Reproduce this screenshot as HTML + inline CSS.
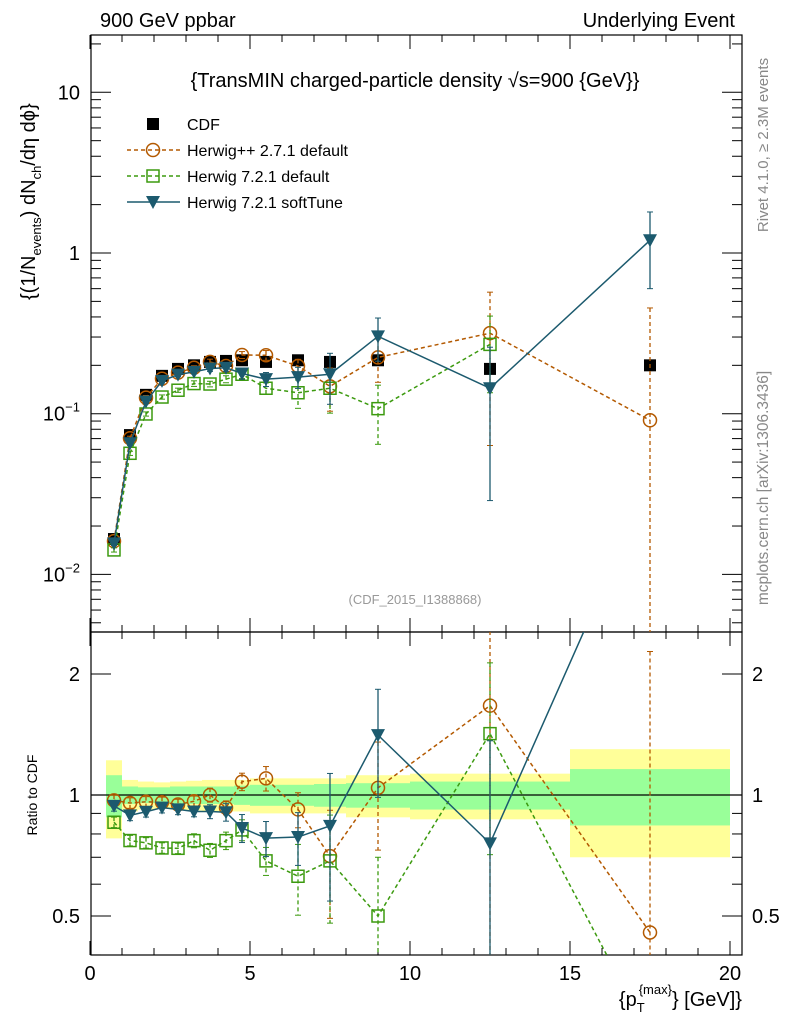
<!DOCTYPE html>
<html><head><meta charset="utf-8"><style>
html,body{margin:0;padding:0;background:#fff;width:786px;height:1024px;overflow:hidden}
svg{display:block;font-family:"Liberation Sans",sans-serif}
</style></head><body>
<svg id="c" width="786" height="1024" viewBox="0 0 786 1024">
<text x="100" y="27" font-size="20">900 GeV ppbar</text>
<text x="735" y="27" font-size="20" text-anchor="end">Underlying Event</text>
<text x="415" y="87" font-size="20" text-anchor="middle">{TransMIN charged-particle density √s=900 {GeV}}</text>
<text x="415" y="604" font-size="13" fill="#999" text-anchor="middle">(CDF_2015_I1388868)</text>
<text transform="translate(768,145) rotate(-90)" font-size="15" fill="#888" text-anchor="middle">Rivet 4.1.0, ≥ 2.3M events</text>
<text transform="translate(768,488) rotate(-90)" font-size="15.5" fill="#888" text-anchor="middle">mcplots.cern.ch [arXiv:1306.3436]</text>
<text transform="translate(35,300) rotate(-90)" font-size="20">{(1/N<tspan font-size="13" dy="6">events</tspan><tspan dy="-6">) dN</tspan><tspan font-size="13" dy="6">ch</tspan><tspan dy="-6">/dη dϕ}</tspan></text>
<text transform="translate(37,795) rotate(-90)" font-size="14" text-anchor="middle">Ratio to CDF</text>
<text x="742" y="1006" font-size="20" text-anchor="end">{p<tspan font-size="13" dy="6">T</tspan><tspan font-size="13" dy="-18" dx="-6">{max}</tspan><tspan dy="12">} [GeV]}</tspan></text>
<g id="g"></g>
</svg>
<script>
const xs=[0.75,1.25,1.75,2.25,2.75,3.25,3.75,4.25,4.75,5.5,6.5,7.5,9,12.5,17.5];
const cdf=[0.0166,0.0736,0.131,0.172,0.19,0.2,0.21,0.213,0.215,0.21,0.215,0.21,0.215,0.19,0.2];
const hwpp=[0.0161,0.0703,0.126,0.165,0.18,0.193,0.21,0.198,0.232,0.231,0.198,0.148,0.224,0.317,0.091];
const hwppErr=[0.03,0.03,0.03,0.03,0.03,0.03,0.04,0.04,0.05,0.07,0.1,0.3,0.3,0.8,4];
const hwdef=[0.0142,0.0567,0.0996,0.127,0.14,0.154,0.153,0.164,0.176,0.144,0.135,0.144,0.1075,0.27,null];
const hwdefErr=[0.03,0.03,0.03,0.03,0.03,0.04,0.04,0.05,0.06,0.08,0.2,0.3,0.4,0.5,0];
const soft=[0.0156,0.0655,0.119,0.16,0.175,0.182,0.191,0.193,0.178,0.164,0.169,0.176,0.303,0.144,1.2];
const softErr=[0.03,0.03,0.03,0.03,0.03,0.03,0.04,0.05,0.08,0.1,0.15,0.35,0.3,0.8,0.5];
const binEdges=[0.5,1,1.5,2,2.5,3,3.5,4,4.5,5,6,7,8,10,15,20];
const bandYellow=[0.22,0.09,0.08,0.075,0.08,0.085,0.09,0.09,0.09,0.1,0.1,0.1,0.12,0.13,0.3];
const bandGreen=[0.12,0.05,0.045,0.045,0.05,0.05,0.05,0.05,0.055,0.06,0.06,0.065,0.07,0.08,0.16];
const xTicks=[0,5,10,15,20];
const defRatioTail=0.25;

const NS="http://www.w3.org/2000/svg",G=document.getElementById('g');
const L=91,R=742,T=35,M=632,B=955;
const X=v=>90+32*v;
const Y=v=>253-160.7*Math.log10(v);
const YR=r=>795-402*Math.log10(r);
function el(t,a,p){const e=document.createElementNS(NS,t);for(const k in a)e.setAttribute(k,a[k]);(p||G).appendChild(e);return e;}
const defs=el('defs',{});
const c1=el('clipPath',{id:'cm'},defs);el('rect',{x:L,y:T,width:R-L,height:M-T},c1);
const c2=el('clipPath',{id:'cr'},defs);el('rect',{x:L,y:M,width:R-L,height:B-M},c2);
const bg=el('g',{'clip-path':'url(#cr)'});
for(let i=0;i<bandYellow.length;i++){
 const r=el('rect',{x:X(binEdges[i]),y:YR(1+bandYellow[i]),width:X(binEdges[i+1])-X(binEdges[i]),height:YR(1-bandYellow[i])-YR(1+bandYellow[i]),fill:'#ffff99'},bg);
 
 
 const g2=el('rect',{x:X(binEdges[i]),y:YR(1+bandGreen[i]),width:X(binEdges[i+1])-X(binEdges[i]),height:YR(1-bandGreen[i])-YR(1+bandGreen[i]),fill:'#99ff99'},bg);
 
 
}
el('line',{x1:L,x2:R,y1:YR(1),y2:YR(1),stroke:'#000','stroke-width':1.2});
el('rect',{x:L,y:T,width:R-L,height:M-T,fill:'none',stroke:'#000','stroke-width':1.2});
el('rect',{x:L,y:M,width:R-L,height:B-M,fill:'none',stroke:'#000','stroke-width':1.2});
for(let v=0;v<=20.3;v+=1){const big=v%5==0;const h=big?14:7;
 for(const [y0,d] of [[M,-1],[B,-1],[T,1],[M,1]]){el('line',{x1:X(v),x2:X(v),y1:y0,y2:y0+d*h,stroke:'#000'});}}
xTicks.forEach(v=>{const t=el('text',{x:X(v),y:980,'font-size':20,'text-anchor':'middle'});t.textContent=v;
 
 });
for(let d=-3;d<2;d++)for(let m=1;m<10;m++){const v=m*Math.pow(10,d);const y=Y(v);if(y<T||y>M)continue;const h=m==1?20:10;
 el('line',{x1:L,x2:L+h,y1:y,y2:y,stroke:'#000'});el('line',{x1:R,x2:R-h,y1:y,y2:y,stroke:'#000'});}
[[0.01,'10',"−2"],[0.1,'10','−1'],[1,'1',''],[10,'10','']].forEach(([v,a,e])=>{const t=el('text',{x:80,y:Y(v)+7,'font-size':20,'text-anchor':'end'});
 t.innerHTML=a+(e?'<tspan font-size="13" dy="-9">'+e+'</tspan>':'');
 
 });
[0.4,0.5,0.6,0.7,0.8,0.9,1,2].forEach(v=>{const y=YR(v);const big=(v==0.5||v==1||v==2);const h=big?20:10;
 el('line',{x1:L,x2:L+h,y1:y,y2:y,stroke:'#000'});el('line',{x1:R,x2:R-h,y1:y,y2:y,stroke:'#000'});});
[[0.5,'0.5'],[1,'1'],[2,'2']].forEach(([v,s])=>{for(const [x,a] of [[80,'end'],[752,'start']]){const t=el('text',{x:x,y:YR(v)+7,'font-size':20,'text-anchor':a});t.textContent=s;
 
 }});
function mark(type,x,y,col,p){
 if(type=='sq')return el('rect',{x:x-6,y:y-6,width:12,height:12,fill:'#000'},p);
 if(type=='circ')return el('circle',{cx:x,cy:y,r:6.5,fill:'none',stroke:col,'stroke-width':1.5},p);
 if(type=='osq')return el('rect',{x:x-6,y:y-6,width:12,height:12,fill:'none',stroke:col,'stroke-width':1.5},p);
 return el('path',{d:`M${x-7},${y-6}L${x+7},${y-6}L${x},${y+7}Z`,fill:col},p);
}
const series=[
 {n:'herwigpp',v:hwpp,e:hwppErr,c:'#b35900',t:'circ',dash:'4,3'},
 {n:'herwig721-default',v:hwdef,e:hwdefErr,c:'#3c9a0f',t:'osq',dash:'4,3'},
 {n:'herwig721-softtune',v:soft,e:softErr,c:'#1c5a6e',t:'tri',dash:''}];
const gm=el('g',{'clip-path':'url(#cm)'}),gr=el('g',{'clip-path':'url(#cr)'});
cdf.forEach((v,i)=>{const m=mark('sq',X(xs[i]),Y(v),'#000',gm);
 
 });
series.forEach(s=>{
 for(const [g,f,isR] of [[gm,(v,i)=>Y(v),false],[gr,(v,i)=>YR(v/cdf[i]),true]]){
  const pts=[];s.v.forEach((v,i)=>{if(v!=null)pts.push([X(xs[i]),f(v,i)]);else if(isR)pts.push([X(xs[i]),YR(defRatioTail)]);});
  const p=el('polyline',{points:pts.map(q=>q.join(',')).join(' '),fill:'none',stroke:s.c,'stroke-width':1.5,'stroke-dasharray':s.dash},g);
  
  
  s.v.forEach((v,i)=>{if(v==null)return;const x=X(xs[i]);const hi=v*(1+s.e[i]),lo=Math.max(v*(1-s.e[i]),1e-6);
   const y1=isR?YR(hi/cdf[i]):Y(hi),y2=isR?YR(lo/cdf[i]):Y(lo);
   el('line',{x1:x,x2:x,y1:y1,y2:y2,stroke:s.c,'stroke-width':1.3,'stroke-dasharray':s.dash},g);
   el('line',{x1:x-3,x2:x+3,y1:y1,y2:y1,stroke:s.c},g);el('line',{x1:x-3,x2:x+3,y1:y2,y2:y2,stroke:s.c},g);
   const m=mark(s.t,x,f(v,i),s.c,g);
   
   });
 }
});
const leg=[['sq','#000','','CDF'],['circ','#b35900','4,3','Herwig++ 2.7.1 default'],['osq','#3c9a0f','4,3','Herwig 7.2.1 default'],['tri','#1c5a6e','','Herwig 7.2.1 softTune']];
leg.forEach((l,i)=>{const y=124+26*i;const g=el('g',{});
 
 
 if(i>0)el('line',{x1:127,x2:180,y1:y,y2:y,stroke:l[1],'stroke-width':1.5,'stroke-dasharray':l[2]},g);
 mark(l[0],153,y,l[1],g);const t=el('text',{x:187,y:y+6,'font-size':16},g);t.textContent=l[3];});
</script>
</body></html>
